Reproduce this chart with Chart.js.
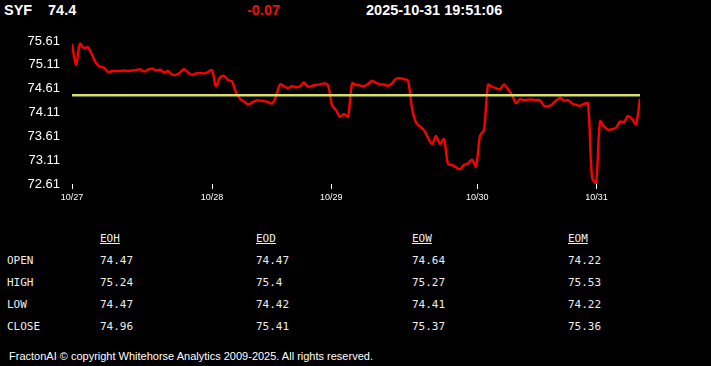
<!DOCTYPE html>
<html>
<head>
<meta charset="utf-8">
<script src="https://cdn.jsdelivr.net/npm/chart.js@4"></script>
<style>
  html, body { margin: 0; padding: 0; background: #000; width: 711px; height: 366px; overflow: hidden; }
  .txt { position: absolute; white-space: nowrap; line-height: 1; color: #fff; }
  .head { font: bold 14.5px "Liberation Sans", Arial, sans-serif; top: 2px; }
  .tbl { font: 11px "DejaVu Sans Mono", monospace; color: #eee; }
  .tbl u { text-decoration: underline; }
  .foot { font: 11px "Liberation Sans", Arial, sans-serif; left: 9px; top: 350px; }
  #wrap { position: absolute; left: 0; top: 0; width: 711px; height: 212px; }
</style>
</head>
<body>
<div class="txt head" style="left:4px">SYF</div>
<div class="txt head" style="left:48px">74.4</div>
<div class="txt head" style="left:247px;color:#f01010">-0.07</div>
<div class="txt head" style="left:366px">2025-10-31 19:51:06</div>
<div id="wrap"><canvas id="lineChart"></canvas></div>
<div id="table"></div>
<div class="txt foot">FractonAI © copyright Whitehorse Analytics 2009-2025. All rights reserved.</div>
<script>
// price series, one point every few minutes across the week
const prices = [
  75.55, 75.11, 75.55, 75.46, 75.48, 75.32, 75.15, 75.07, 75.05, 74.96,
  74.98, 74.98, 74.98, 74.99, 74.98, 74.99, 75.00, 75.02, 74.97, 75.01,
  75.03, 74.99, 75.01, 74.95, 74.98, 74.91, 74.90, 74.95, 75.02, 74.95,
  74.90, 74.93, 74.94, 74.93, 74.96, 75.00, 74.66, 74.85, 74.88, 74.79,
  74.76, 74.53, 74.40, 74.34, 74.28, 74.32, 74.36, 74.36, 74.35, 74.33,
  74.30, 74.45, 74.70, 74.66, 74.62, 74.66, 74.64, 74.66, 74.74, 74.65,
  74.67, 74.69, 74.70, 74.72, 74.68, 74.26, 74.16, 74.02, 74.08, 74.02,
  74.72, 74.69, 74.68, 74.66, 74.71, 74.77, 74.73, 74.70, 74.70, 74.67,
  74.72, 74.82, 74.83, 74.81, 74.78, 74.20, 73.90, 73.82, 73.74, 73.58,
  73.45, 73.62, 73.45, 73.55, 73.03, 73.01, 72.96, 72.92, 73.01, 73.04,
  73.12, 72.98, 73.62, 73.75, 74.69, 74.65, 74.62, 74.60, 74.70, 74.60,
  74.48, 74.31, 74.39, 74.37, 74.38, 74.38, 74.37, 74.37, 74.25, 74.24,
  74.28, 74.36, 74.42, 74.36, 74.37, 74.30, 74.27, 74.25, 74.29, 74.30,
  72.75, 72.62, 73.92, 73.82, 73.75, 73.76, 73.79, 73.92, 73.91, 74.04,
  73.97, 73.87, 74.40
];
const openLevel = 74.47;
const dayLabels = ["10/27", "10/28", "10/29", "10/30", "10/31"];
const dayStarts = [0, 35, 64.8, 101.3, 131.1];

const rowNames = ["OPEN", "HIGH", "LOW", "CLOSE"];
const colNames = ["EOH", "EOD", "EOW", "EOM"];
const eoh = ["74.47", "75.24", "74.47", "74.96"];
const eod = ["74.47", "75.4", "74.42", "75.41"];
const eow = ["74.64", "75.27", "74.41", "75.37"];
const eom = ["74.22", "75.53", "74.22", "75.36"];

// summary table
const table = document.getElementById("table");
const colX = [100, 256, 412, 568];
const cols = [eoh, eod, eow, eom];
let html = "";
colNames.forEach((c, j) => {
  html += `<div class="txt tbl" style="left:${colX[j]}px;top:232px"><u>${c}</u></div>`;
});
rowNames.forEach((r, i) => {
  const top = 254 + i * 22;
  html += `<div class="txt tbl" style="left:7px;top:${top}px">${r}</div>`;
  cols.forEach((col, j) => {
    html += `<div class="txt tbl" style="left:${colX[j]}px;top:${top}px">${col[i]}</div>`;
  });
});
table.innerHTML = html;

const ctx = document.getElementById("lineChart").getContext("2d");
const lastIdx = prices.length - 1;

new Chart(ctx, {
  type: "line",
  data: {
    datasets: [
      {
        label: "open",
        data: [{ x: 0, y: openLevel }, { x: lastIdx, y: openLevel }],
        borderColor: "rgb(212,224,104)",
        borderWidth: 2.5,
        pointRadius: 0,
      },
      {
        label: "SYF",
        data: prices.map((v, i) => ({ x: i, y: v })),
        borderColor: "rgb(250,0,0)",
        borderWidth: 2.4,
        pointRadius: 0,
        tension: 0.3,
      },
    ],
  },
  options: {
    responsive: true,
    maintainAspectRatio: false,
    animation: false,
    layout: { padding: { top: 41, right: 71, left: 0, bottom: 0 } },
    plugins: { legend: { display: false }, tooltip: { enabled: false } },
    scales: {
      x: {
        type: "linear",
        min: 0,
        max: lastIdx,
        afterBuildTicks: (axis) => {
          axis.ticks = dayStarts.map((v) => ({ value: v }));
        },
        afterFit: (axis) => {
          axis.height = 28;
        },
        ticks: {
          autoSkip: false,
          maxRotation: 0,
          color: "#fff",
          padding: 3,
          font: { family: "Liberation Sans", size: 9 },
          callback: (v, i) => dayLabels[i],
        },
        grid: { drawOnChartArea: false, color: "#fff", tickLength: 5 },
        border: { display: false },
      },
      y: {
        min: 72.61,
        max: 75.61,
        afterFit: (axis) => {
          axis.width = 72;
        },
        ticks: {
          stepSize: 0.5,
          color: "#fff",
          padding: 12,
          font: { family: "Liberation Sans", size: 13 },
          callback: (v) => v.toFixed(2),
        },
        grid: { display: false, drawTicks: false },
        border: { display: false },
      },
    },
  },
});
</script>
</body>
</html>
